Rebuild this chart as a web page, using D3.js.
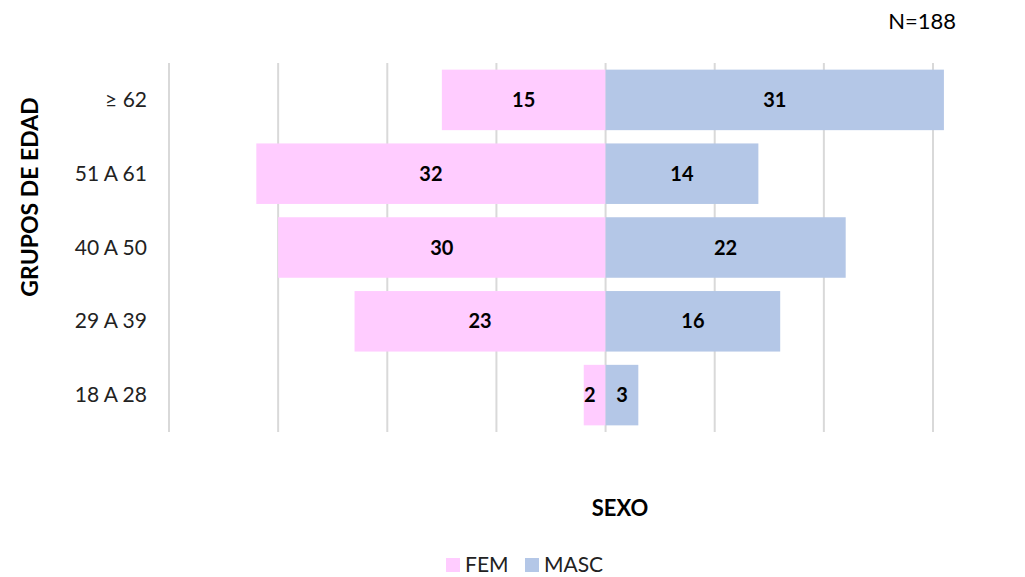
<!DOCTYPE html>
<html>
<head>
<meta charset="utf-8">
<script src="https://cdn.jsdelivr.net/npm/d3@7"></script>
<style>
  body { margin: 0; background: #fff; }
  svg { font-family: Lato, "Open Sans", sans-serif; }
</style>
</head>
<body>
<svg id="chart" width="1025" height="577"></svg>
<script>
// --------------- Data ---------------
const AGE_GROUPS = ["≥ 62", "51 A 61", "40 A 50", "29 A 39", "18 A 28"];
const FEM = [15, 32, 30, 23, 2];
const MASC = [31, 14, 22, 16, 3];
const TICKS = [-40, -30, -20, -10, 0, 10, 20, 30];

// --------------- Constants ---------------
const PLOT = { left: 169, right: 933, top: 63, bottom: 432 };
const PINK = "#FFCCFF";
const BLUE = "#B4C7E7";
const GRID = "#D9D9D9";

const svg = d3.select("#chart");

const x = d3.scaleLinear().domain([-40, 30]).range([PLOT.left, PLOT.right]);
const y = d3.scaleBand().domain(AGE_GROUPS).range([PLOT.top, PLOT.bottom]).paddingInner(0.18).paddingOuter(0.09);

// gridlines
svg.append("g")
  .selectAll("line")
  .data(TICKS)
  .join("line")
  .attr("x1", d => x(d))
  .attr("x2", d => x(d))
  .attr("y1", PLOT.top)
  .attr("y2", PLOT.bottom)
  .attr("stroke", GRID)
  .attr("stroke-width", 2);

// bars
const rows = AGE_GROUPS.map((g, i) => ({ g, fem: FEM[i], masc: MASC[i] }));

svg.append("g")
  .selectAll("rect")
  .data(rows)
  .join("rect")
  .attr("x", d => x(-d.fem))
  .attr("y", d => y(d.g))
  .attr("width", d => x(0) - x(-d.fem))
  .attr("height", y.bandwidth())
  .attr("fill", PINK);

svg.append("g")
  .selectAll("rect")
  .data(rows)
  .join("rect")
  .attr("x", x(0))
  .attr("y", d => y(d.g))
  .attr("width", d => x(d.masc) - x(0))
  .attr("height", y.bandwidth())
  .attr("fill", BLUE);

// value labels
svg.append("g")
  .selectAll("text")
  .data(rows)
  .join("text")
  .attr("x", d => d.fem < 5 ? x(-d.fem) + 6 : (x(-d.fem) + x(0)) / 2)
  .attr("y", d => y(d.g) + y.bandwidth() / 2 + 7)
  .attr("text-anchor", "middle")
  .attr("font-size", 20)
  .attr("font-weight", "bold")
  .text(d => d.fem);

svg.append("g")
  .selectAll("text")
  .data(rows)
  .join("text")
  .attr("x", d => (x(d.masc) + x(0)) / 2)
  .attr("y", d => y(d.g) + y.bandwidth() / 2 + 7)
  .attr("text-anchor", "middle")
  .attr("font-size", 20)
  .attr("font-weight", "bold")
  .text(d => d.masc);

// category labels
svg.append("g")
  .selectAll("text")
  .data(AGE_GROUPS)
  .join("text")
  .attr("x", 147)
  .attr("y", d => y(d) + y.bandwidth() / 2 + 7)
  .attr("text-anchor", "end")
  .attr("font-size", 21)
  .attr("fill", "#222")
  .text(d => d);

// titles
svg.append("text")
  .attr("transform", "translate(38,197) rotate(-90)")
  .attr("text-anchor", "middle")
  .attr("font-size", 23)
  .attr("font-weight", "bold")
  .text("GRUPOS DE EDAD");

svg.append("text")
  .attr("x", 620)
  .attr("y", 516)
  .attr("text-anchor", "middle")
  .attr("font-size", 22)
  .attr("font-weight", "bold")
  .text("SEXO");

svg.append("text")
  .attr("x", 956)
  .attr("y", 29)
  .attr("text-anchor", "end")
  .attr("font-size", 22)
  .text("N=188");

// legend
const legend = [{ name: "FEM", color: PINK, x: 446 }, { name: "MASC", color: BLUE, x: 525 }];
const lg = svg.append("g").selectAll("g").data(legend).join("g")
  .attr("transform", d => `translate(${d.x},558)`);
lg.append("rect").attr("width", 14).attr("height", 14).attr("fill", d => d.color);
lg.append("text").attr("x", 19).attr("y", 14).attr("font-size", 21).attr("fill", "#222").text(d => d.name);
</script>
</body>
</html>
